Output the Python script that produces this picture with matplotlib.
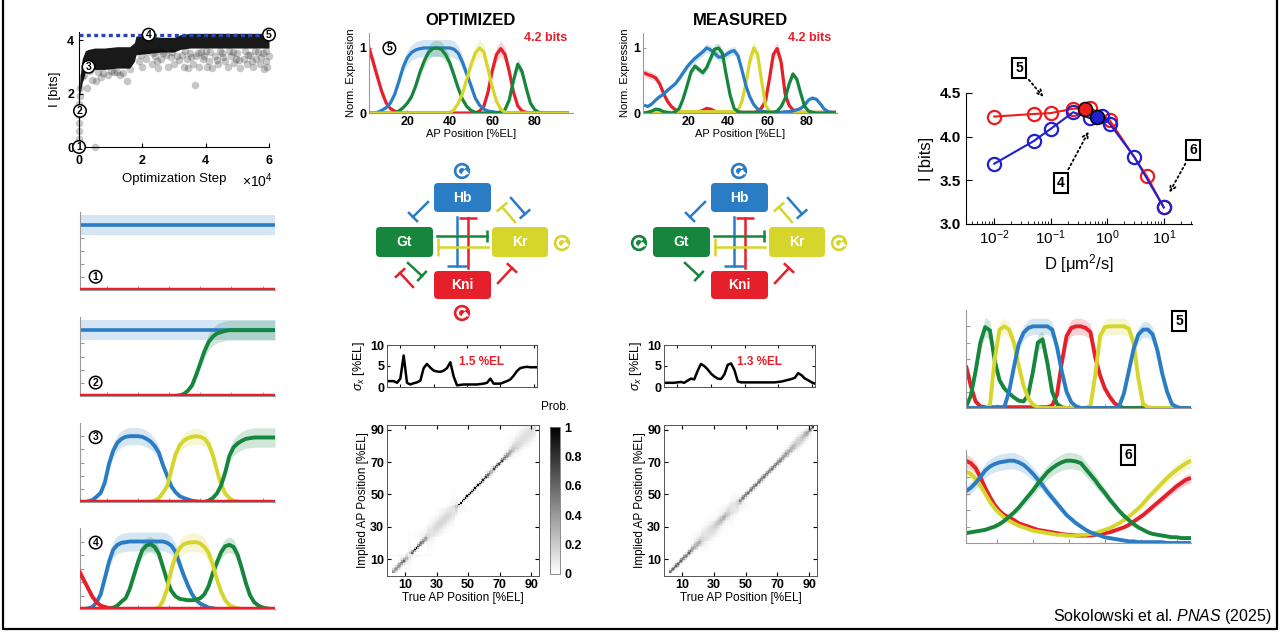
import numpy as np
import matplotlib
matplotlib.use("Agg")
import matplotlib.pyplot as plt
from matplotlib.patches import FancyBboxPatch, Circle, Arc, Polygon

plt.rcParams['font.family'] = ['Liberation Sans', 'DejaVu Sans']
plt.rcParams['mathtext.fontset'] = 'custom'
plt.rcParams['mathtext.rm'] = 'Liberation Sans'
plt.rcParams['mathtext.it'] = 'Liberation Sans:italic'
plt.rcParams['mathtext.bf'] = 'Liberation Sans:bold'

W, H = 1281, 633

# gene colours
C_HB = '#2a7dc4'
C_GT = '#15863c'
C_KR = '#d6d52c'
C_KNI = '#e5202a'

# ---------------- optimisation trace ----------------
core_step = [0.02, 0.05, 0.1, 0.2, 0.3, 0.5, 0.8, 1.2, 1.6, 1.75, 1.8, 2.2, 2.6, 3.0, 3.2, 3.5, 4.0, 4.5, 5.0, 5.5, 6.0]
core_lo = [1.9, 2.1, 2.4, 2.8, 2.9, 2.9, 2.9, 2.95, 2.95, 3.2, 3.45, 3.5, 3.55, 3.55, 3.65, 3.7, 3.7, 3.7, 3.7, 3.7, 3.7]
core_hi = [2.4, 2.8, 3.3, 3.6, 3.65, 3.7, 3.7, 3.75, 3.75, 3.9, 4.15, 4.15, 4.1, 4.1, 4.2, 4.25, 4.25, 4.25, 4.25, 4.25, 4.25]
gray_step = [0.0, 0.0, 0.0, 0.01, 0.01, 0.02, 0.03, 0.5, 0.1, 0.25, 0.4, 0.55, 0.7, 0.9, 1.1, 1.5, 1.3, 1.6,
             1.9, 2.0, 2.1, 2.3, 2.4, 2.5, 2.6, 2.8, 2.9, 3.0, 3.1,
             3.3, 3.4, 3.5, 3.6, 3.65, 3.7, 3.8, 3.9, 4.0, 4.1, 4.2, 4.3, 4.4, 4.5, 4.6, 4.7, 4.8, 4.9,
             5.0, 5.1, 5.2, 5.3, 5.4, 5.5, 5.6, 5.7, 5.8, 5.85, 5.9, 6.0, 5.95, 4.05, 3.45, 4.75, 5.25,
             1.95, 2.15, 2.35, 2.55, 2.75, 2.95, 3.15, 3.35, 3.55, 3.75, 3.95, 4.15, 4.35, 4.55, 4.85,
             5.05, 5.35, 5.45, 5.65, 5.75, 5.9, 3.25, 3.85, 4.45, 4.95, 5.55, 2.45, 2.65, 0.15, 0.35,
             0.6, 0.75, 1.0, 1.2, 1.4]
gray_info = [0.3, 0.6, 0.9, 1.2, 1.6, 1.9, 2.2, 0.0, 2.6, 2.2, 2.5, 2.45, 2.6, 2.7, 2.8, 2.45, 2.7, 2.9,
             3.2, 3.0, 3.3, 3.1, 3.4, 2.95, 3.3, 3.0, 3.35, 3.1, 3.4,
             3.0, 3.3, 3.5, 3.1, 2.3, 3.4, 3.0, 3.3, 3.6, 3.2, 2.95, 3.4, 3.1, 3.5, 3.2, 3.0, 3.4, 3.15,
             3.5, 2.95, 3.3, 3.1, 3.45, 3.0, 3.3, 3.1, 3.5, 2.9, 3.2, 3.4, 3.0, 3.0, 2.95, 3.6, 3.6,
             3.45, 3.55, 3.5, 3.6, 3.45, 3.55, 3.25, 3.6, 3.35, 3.5, 3.4, 3.55, 3.25, 3.35, 3.55,
             3.25, 3.45, 3.2, 3.55, 3.35, 3.6, 3.45, 3.55, 3.6, 3.3, 3.6, 3.2, 3.5, 2.7, 2.85,
             2.8, 2.75, 2.85, 2.8, 2.75]
max_info = 4.2
snap_step = [0.0, 0.03, 0.3, 2.2, 6.0]
snap_info = [0.0, 1.35, 3.0, 4.2, 4.2]

# ---------------- expression profiles (AP position grid, %EL) ----------------
AP = np.arange(2, 97, 2)
AP_MEAS = np.arange(-3, 96, 2)

stage_level = 1.0
stage2_gt = [0, 0, 0, 0, 0, 0, 0, 0, 0, 0, 0, 0, 0, 0, 0, 0, 0, 0, 0, 0, 0, 0, 0, 0.0,
             0.01, 0.03, 0.08, 0.16, 0.32, 0.5, 0.68, 0.82, 0.9, 0.95, 0.97, 0.99,
             1, 1, 1, 1, 1, 1, 1, 1, 1, 1, 1, 1]

stage3_hb = [0, 0, .01, .03, .08, .14, .30, .58, .78, .90, .96, .99, 1, 1, 1, .99, .96, .92, .85, .75,
             .56, .40, .24, .15, .09, .06, .04, .02, .01, 0, 0, 0, 0, 0, 0, 0, 0, 0, 0, 0,
             0, 0, 0, 0, 0, 0, 0, 0]
stage3_kr = [0, 0, 0, 0, 0, 0, 0, 0, 0, 0, 0, 0, 0, 0, 0, 0, 0, 0, .02, .06,
             .14, .24, .48, .72, .86, .93, .97, .99, 1, .99, .96, .88, .72, .48, .27, .13, .06, .02, .01, 0,
             0, 0, 0, 0, 0, 0, 0, 0]
stage3_gt = [0, 0, 0, 0, 0, 0, 0, 0, 0, 0, 0, 0, 0, 0, 0, 0, 0, 0, 0, 0,
             0, 0, 0, 0, 0, 0, 0, 0, 0, 0, 0, .02, .06, .13, .25, .45, .70, .83, .89, .93,
             .96, .97, .98, .98, .98, .98, .98, .98]

stage4_kni = [.54, .42, .30, .18, .10, .05, .03, .01, 0, 0, 0, 0, 0, 0, 0, 0, 0, 0, 0, 0,
              0, 0, 0, 0, 0, 0, 0, 0, 0, 0, 0, 0, 0, 0, 0, 0, 0, 0, 0, 0,
              0, 0, 0, 0, 0, 0, 0, 0]
stage4_hb = [0, 0, .01, .03, .10, .22, .46, .70, .88, .95, .98, .99, 1, 1, 1, 1, 1, 1, 1, 1,
             1, .98, .94, .85, .67, .50, .35, .22, .13, .08, .05, .02, .01, 0, 0, 0, 0, 0, 0, 0,
             0, 0, 0, 0, 0, 0, 0, 0]
stage4_gt = [0, 0, 0, 0, 0, 0, 0, .01, .02, .05, .11, .16, .30, .50, .70, .87, .94, .96, .92, .82,
             .62, .42, .27, .19, .15, .14, .13, .13, .14, .16, .22, .34, .53, .69, .84, .93, .95, .92, .80, .60,
             .38, .20, .10, .05, .02, .01, 0, 0]
stage4_kr = [0, 0, 0, 0, 0, 0, 0, 0, 0, 0, 0, 0, 0, 0, 0, 0, 0, 0, 0, .02,
             .12, .30, .58, .78, .90, .96, .98, .99, .99, .97, .92, .83, .66, .44, .26, .13, .06, .03, .01, 0,
             0, 0, 0, 0, 0, 0, 0, 0]

opt_kni = [1.0, .78, .55, .33, .16, .07, .03, .01, 0, 0, 0, 0, 0, 0, 0, 0, 0, 0, 0, 0,
           0, 0, 0, 0, 0, 0, .03, .10, .32, .65, .90, .99, .90, .64, .32, .11, .03, .01, 0, 0,
           0, 0, 0, 0, 0, 0, 0, 0]
opt_hb = [0, 0, .01, .04, .08, .15, .28, .48, .70, .85, .93, .97, .99, 1, 1, 1, 1, 1, 1, 1,
          .98, .92, .78, .60, .42, .23, .12, .06, .03, .02, .01, 0, 0, 0, 0, 0, 0, 0, 0, 0,
          0, 0, 0, 0, 0, 0, 0, 0]
opt_gt = [0, 0, 0, 0, 0, 0, 0, .03, .08, .15, .25, .42, .63, .80, .93, .99, 1.0, .98, .90, .77,
          .58, .38, .21, .10, .04, .01, 0, 0, 0, 0, 0, .02, .05, .20, .50, .75, .64, .38, .15, .05,
          .01, 0, 0, 0, 0, 0, 0, 0]
opt_kr = [0, 0, 0, 0, 0, 0, 0, 0, 0, 0, 0, 0, 0, 0, 0, 0, 0, 0, 0, 0,
          .05, .15, .30, .52, .74, .92, 1.0, .94, .68, .40, .18, .06, .01, 0, 0, 0, 0, 0, 0, 0,
          0, 0, 0, 0, 0, 0, 0, 0]

meas_kni = [.62, .59, .57, .54, .45, .30, .18, .10, .05, .02, .01, .01, .01, .01, .02, .04, .07, .06, .03, .01,
            .01, .01, .01, .01, .01, .01, .01, .01, .01, .02, .08, .18, .52, .90, .99, .78, .30, .12, .05, .02,
            .01, .01, .01, .01, .01, .01, .01, .01, .01, .01]
meas_hb = [.12, .10, .14, .20, .25, .29, .35, .40, .45, .53, .62, .71, .78, .84, .89, .94, 1.0, .97, .92, .86,
           .86, .90, .94, .96, .88, .66, .42, .25, .13, .06, .03, .02, .01, .01, .01, .01, .02, .02, .03, .05,
           .07, .12, .20, .23, .21, .14, .06, .02, .01, .01]
meas_gt = [0, .01, .03, .06, .05, .02, .01, 0, .02, .07, .22, .42, .63, .72, .67, .62, .70, .84, .98, 1.0,
           .92, .58, .27, .07, .02, .01, .01, .01, .01, .01, .01, .01, .01, .01, .03, .10, .22, .44, .60, .52,
           .30, .10, .03, .01, 0, 0, 0, 0, 0, 0]
meas_kr = [.01, .01, .01, .01, .01, .01, .01, .01, .01, .02, .02, .02, .02, .02, .02, .02, .02, .02, .02, .02,
           .02, .02, .02, .02, .04, .18, .45, .80, 1.0, .90, .50, .12, .03, .01, .01, .01, .01, .01, .01, .01,
           .01, .01, .01, .01, .01, .01, .01, .01, .01, .01]

d5_kni = [.52, .27, .08, .02, .01, .01, .01, .01, .01, .01, .01, .01, .01, .01, .01, .01, .01, .01, .03, .16,
          .55, .88, .98, 1.0, 1.0, .98, .93, .62, .40, .24, .14, .06, .02, 0, 0, 0, 0, 0, 0, 0,
          0, 0, 0, 0, 0, 0, 0, 0]
d5_gt = [.01, .15, .45, .80, .99, .95, .58, .34, .24, .18, .13, .09, .08, .16, .45, .80, .84, .55, .20, .05,
         .01, 0, 0, 0, 0, 0, 0, 0, 0, 0, 0, 0, 0, 0, 0, 0, 0, 0, 0, 0,
         0, 0, 0, 0, 0, 0, 0, 0]
d5_kr = [0, 0, 0, 0, 0, .03, .60, .96, 1.0, .96, .80, .52, .28, .12, .04, .01, 0, 0, 0, 0,
         0, 0, 0, 0, 0, 0, .03, .40, .88, .99, 1.0, 1.0, 1.0, 1.0, .97, .80, .36, .05, .01, 0,
         0, 0, 0, 0, 0, 0, 0, 0]
d5_hb = [0, 0, 0, 0, 0, 0, 0, 0, .01, .20, .50, .78, .92, .98, 1.0, 1.0, 1.0, 1.0, .96, .75,
         .45, .20, .07, .02, 0, 0, 0, 0, 0, 0, 0, 0, .02, .18, .45, .72, .90, .96, .96, .90,
         .70, .42, .20, .05, .01, 0, 0, 0]

d6_kni = [1.0, .97, .91, .80, .67, .56, .46, .39, .34, .31, .28, .24, .22, .20, .18, .16, .15, .14, .13, .12,
          .11, .10, .10, .09, .09, .09, .09, .10, .11, .12, .13, .15, .17, .19, .22, .26, .30, .34, .39, .44,
          .49, .54, .59, .64, .69, .73, .77, .79]
d6_kr = [.87, .84, .78, .70, .60, .50, .42, .36, .31, .27, .24, .21, .19, .17, .15, .14, .13, .12, .11, .10,
         .10, .09, .09, .09, .10, .10, .11, .12, .14, .16, .18, .21, .24, .28, .32, .37, .42, .48, .55, .61,
         .67, .73, .79, .84, .89, .93, .97, 1.0]
d6_hb = [.63, .67, .73, .80, .88, .93, .96, .98, .99, 1.0, 1.0, .98, .95, .90, .84, .77, .70, .62, .55, .48,
         .41, .34, .29, .24, .20, .16, .13, .11, .09, .07, .06, .05, .04, .03, .02, .02, .01, .01, .01, .01,
         .01, .01, 0, 0, 0, 0, 0, 0]
d6_gt = [.12, .13, .14, .15, .16, .18, .20, .23, .27, .32, .37, .43, .50, .57, .64, .72, .79, .86, .91, .95,
         .98, 1.0, 1.0, .99, .97, .90, .83, .76, .68, .61, .53, .46, .39, .33, .28, .23, .19, .16, .13, .11,
         .10, .09, .08, .07, .07, .06, .06, .06]

# ---------------- positional error sigma_x (%EL) ----------------
SIG_AP = np.arange(2, 93, 2)
sigma_opt = [1.4, 1.4, 1.4, 1.0, 2.0, 7.5, 1.0, 0.6, 0.9, 1.1, 1.5, 4.5, 5.5, 4.6, 3.9, 3.7, 3.6, 3.9, 4.5, 5.9,
             2.5, 0.4, 0.5, 0.6, 0.6, 0.6, 0.6, 0.6, 0.7, 0.8, 1.0, 2.0, 0.8, 0.8, 0.8, 1.1, 1.4, 1.8, 2.7, 3.8,
             4.5, 4.7, 4.8, 4.7, 4.7, 4.7]
sigma_meas = [1.0, 1.0, 1.0, 1.0, 1.1, 1.2, 1.0, 1.5, 2.0, 1.8, 3.8, 5.5, 5.0, 4.2, 3.2, 2.5, 2.0, 1.9, 3.0, 5.3,
              5.6, 4.0, 1.3, 1.1, 1.1, 1.1, 1.1, 1.1, 1.1, 1.1, 1.1, 1.1, 1.1, 1.1, 1.2, 1.3, 1.5, 1.7, 1.9, 2.2,
              3.3, 2.8, 2.0, 1.6, 1.1, 0.8]
mean_sigma = {'opt': 1.5, 'meas': 1.3}
info_bits = 4.2

# ---------------- information vs diffusion ----------------
D_red = [0.01, 0.05, 0.1, 0.25, 0.5, 1.1, 5.0, 10.0]
I_red = [4.23, 4.26, 4.27, 4.32, 4.33, 4.19, 3.55, 3.19]
D_blue = [0.01, 0.05, 0.1, 0.25, 0.5, 0.8, 1.1, 3.0, 10.0]
I_blue = [3.69, 3.95, 4.09, 4.28, 4.21, 4.24, 4.15, 3.77, 3.19]
D_best = [0.4, 0.65]
I_best = [4.32, 4.22]

fig = plt.figure(figsize=(W / 100, H / 100), dpi=100)


def px_axes(l, t, r, b):
    return fig.add_axes([l / W, 1 - b / H, (r - l) / W, (b - t) / H])


def expr_style(ax, xlim, ylim, labels=False):
    ax.set_xlim(*xlim)
    ax.set_ylim(*ylim)
    for s in ['top', 'right']:
        ax.spines[s].set_visible(False)
    for s in ['left', 'bottom']:
        ax.spines[s].set_color('#9a9a9a')
        ax.spines[s].set_linewidth(0.8)
    ax.tick_params(direction='in', length=3, color='#9a9a9a', width=0.8)
    if not labels:
        ax.set_xticks(np.arange(15, 91, 15))
        ax.set_yticks(np.arange(0.2, 1.01, 0.2))
        ax.set_xticklabels([])
        ax.set_yticklabels([])


def draw_curves(ax, x, curves, lw):
    for y, color, frac in curves:
        y = np.asarray(y, dtype=float)
        ax.fill_between(x, y * (1 - frac), y * (1 + frac), color=color, alpha=0.2, lw=0)
    for y, color, frac in curves:
        ax.plot(x, y, color=color, lw=lw, solid_capstyle='butt', solid_joinstyle='round')


def circled(ax, x, y, s, fs=7.5, transform=None):
    ax.text(x, y, s, ha='center', va='center', fontsize=fs, weight='bold',
            transform=transform if transform is not None else ax.transData,
            bbox=dict(boxstyle='circle,pad=0.12', fc='white', ec='black', lw=1.1),
            zorder=6, clip_on=False)


# ---- optimisation trace
ax = px_axes(79, 32, 269, 147)
ax.scatter(gray_step, gray_info, s=30, color='black', alpha=0.22, lw=0, clip_on=False)
ax.fill_between(core_step, core_lo, core_hi, color='black', alpha=0.9, lw=0)
ax.axhline(max_info, color='#2b45a8', lw=2.4, ls=(0, (1.2, 1.0)), zorder=3)
for i, (s, v) in enumerate(zip(snap_step, snap_info)):
    circled(ax, s, v, str(i + 1))
ax.set_xlim(0, 6)
ax.set_ylim(0, 4.3)
ax.set_xticks([0, 2, 4, 6])
ax.set_yticks([0, 2, 4])
for s in ['top', 'right']:
    ax.spines[s].set_visible(False)
ax.tick_params(direction='in', length=3, labelsize=9)
ax.tick_params(axis='x', pad=6)
for lab in ax.get_xticklabels() + ax.get_yticklabels():
    lab.set_fontweight('bold')
ax.set_ylabel('I [bits]', fontsize=9.5, labelpad=4)
ax.set_xlabel('Optimization Step', fontsize=9.5, labelpad=4)

# ---- optimisation snapshots 1-4
ax = px_axes(80, 212, 275, 290)
ax.axhspan(stage_level - 0.15, stage_level + 0.15, color=C_HB, alpha=0.2, lw=0)
ax.axhline(stage_level, color=C_HB, lw=2.6)
ax.axhline(0, color=C_KNI, lw=3.2, zorder=4)
expr_style(ax, (2, 96), (0, 1.2))
circled(ax, 0.08, 0.17, '1', transform=ax.transAxes)

ax = px_axes(80, 317, 275, 396)
ax.axhspan(stage_level - 0.15, stage_level + 0.15, color=C_HB, alpha=0.2, lw=0)
ax.fill_between(AP, np.array(stage2_gt) * 0.85, np.array(stage2_gt) * 1.15, color=C_GT, alpha=0.2, lw=0)
ax.axhline(stage_level, color=C_HB, lw=2.6)
ax.plot(AP, stage2_gt, color=C_GT, lw=2.8)
ax.axhline(0, color=C_KNI, lw=3.2, zorder=4)
expr_style(ax, (2, 96), (0, 1.2))
circled(ax, 0.08, 0.17, '2', transform=ax.transAxes)

ax = px_axes(80, 423, 275, 502)
draw_curves(ax, AP, [(stage3_hb, C_HB, 0.13), (stage3_kr, C_KR, 0.12), (stage3_gt, C_GT, 0.15)], 2.8)
ax.axhline(0, color=C_KNI, lw=3.2, zorder=4)
expr_style(ax, (2, 96), (0, 1.2))
circled(ax, 0.08, 0.82, '3', transform=ax.transAxes)

ax = px_axes(80, 528, 275, 609)
draw_curves(ax, AP, [(stage4_hb, C_HB, 0.14), (stage4_gt, C_GT, 0.12), (stage4_kr, C_KR, 0.14)], 2.8)
ax.plot(AP, stage4_kni, color=C_KNI, lw=2.8, zorder=5)
ax.axhline(0, color=C_KNI, lw=3.2, zorder=4)
expr_style(ax, (2, 96), (0, 1.2))
circled(ax, 0.08, 0.82, '4', transform=ax.transAxes)


# ---- optimised / measured expression
def top_panel(l, r, x, curves, title, xlim, number=None):
    ax = px_axes(l, 33, r, 113)
    draw_curves(ax, x, curves, 2.3)
    expr_style(ax, xlim, (0, 1.23), labels=True)
    ax.set_xticks([20, 40, 60, 80])
    ax.set_yticks([0, 1])
    ax.tick_params(labelsize=9, length=2, pad=2)
    for lab in ax.get_xticklabels() + ax.get_yticklabels():
        lab.set_fontweight('bold')
    ax.set_xlabel('AP Position [%EL]', fontsize=8, labelpad=1)
    ax.set_ylabel('Norm. Expression', fontsize=8, labelpad=2)
    ax.set_title(title, fontsize=12, weight='bold', pad=6)
    ax.text(0.97, 0.94, f'{info_bits} bits', transform=ax.transAxes, ha='right', va='center',
            color=C_KNI, fontsize=9, weight='bold')
    if number:
        circled(ax, 0.1, 0.81, number, transform=ax.transAxes)
    return ax


top_panel(369, 573, AP, [(opt_kni, C_KNI, 0.12), (opt_hb, C_HB, 0.13), (opt_gt, C_GT, 0.12),
                         (opt_kr, C_KR, 0.13)], 'OPTIMIZED', (2, 98), '5')
top_panel(643, 837, AP_MEAS, [(meas_kni, C_KNI, 0.1), (meas_kr, C_KR, 0.12), (meas_hb, C_HB, 0.07),
                              (meas_gt, C_GT, 0.08)], 'MEASURED', (-3.5, 95.5))

# ---- network diagrams (pixel space overlay)
ov = fig.add_axes([0, 0, 1, 1])
ov.set_xlim(0, W)
ov.set_ylim(H, 0)
ov.axis('off')
ov.set_zorder(5)

BOXES = [('Hb', C_HB, 434, 183, 491, 212), ('Gt', C_GT, 376, 227, 433, 257),
         ('Kr', C_KR, 492, 227, 548, 257), ('Kni', C_KNI, 434, 271, 491, 299)]
EDGES = [(C_HB, (428, 202), (413, 217), 7), (C_KR, (515, 222), (502, 207), 7),
         (C_HB, (511, 198), (525, 214), 7), (C_KNI, (413, 287), (400, 273), 7),
         (C_GT, (408, 263), (422, 276), 7), (C_KNI, (498, 283), (512, 268), 7),
         (C_HB, (457, 217), (457, 266), 10), (C_KNI, (468, 268), (468, 218), 9),
         (C_GT, (437, 236), (487, 236), 6), (C_KR, (488, 247), (438, 247), 9)]
LOOPS_OPT = [(462, 171, C_HB), (562, 243, C_KR), (462, 313, C_KNI)]
LOOPS_MEAS = [(462, 171, C_HB), (362, 243, C_GT), (562, 243, C_KR)]


def self_loop(x, y, color):
    ov.add_patch(Circle((x, y), 7.5, color=color, zorder=6))
    ov.add_patch(Arc((x, y), 8.5, 8.5, theta1=40, theta2=320, color='white', lw=1.8, zorder=7))
    a = np.deg2rad(40)
    hx, hy = x + 4.25 * np.cos(a), y + 4.25 * np.sin(a)
    ov.add_patch(Polygon([(hx - 3, hy), (hx + 3, hy), (hx, hy - 3.5)], color='white', zorder=7))


def network(dx, edges, loops):
    for name, color, x0, y0, x1, y1 in BOXES:
        ov.add_patch(FancyBboxPatch((x0 + dx, y0), x1 - x0, y1 - y0,
                                    boxstyle='round,pad=0,rounding_size=4', fc=color, ec='none', zorder=6))
        ov.text((x0 + x1) / 2 + dx, (y0 + y1) / 2, name, color='white', fontsize=10, weight='bold',
                ha='center', va='center', zorder=7)
    for color, p0, p1, half in edges:
        vx, vy = p1[0] - p0[0], p1[1] - p0[1]
        n = np.hypot(vx, vy)
        px_, py_ = -vy / n * half, vx / n * half
        ov.plot([p0[0] + dx, p1[0] + dx], [p0[1], p1[1]], color=color, lw=1.8, zorder=6)
        ov.plot([p1[0] + dx - px_, p1[0] + dx + px_], [p1[1] - py_, p1[1] + py_], color=color, lw=1.8,
                zorder=6, solid_capstyle='butt')
    for x, y, color in loops:
        self_loop(x + dx, y, color)


network(0, EDGES, LOOPS_OPT)
network(277, [e for i, e in enumerate(EDGES) if i != 3], LOOPS_MEAS)


# ---- positional error
def sigma_panel(l, r, sig, mean):
    ax = px_axes(l, 345, r, 387)
    ax.plot(SIG_AP, sig, color='black', lw=1.8)
    ax.set_xlim(2, 92)
    ax.set_ylim(0, 10)
    ax.set_yticks([0, 5, 10])
    ax.set_xticks([10, 30, 50, 70, 90])
    ax.set_xticklabels([])
    ax.tick_params(direction='in', length=2.5, labelsize=9, top=True, right=True, pad=2)
    for lab in ax.get_yticklabels():
        lab.set_fontweight('bold')
    for s in ax.spines.values():
        s.set_color('#555555')
        s.set_linewidth(0.7)
    ax.set_ylabel(r'$\sigma_x$ [%EL]', fontsize=9, labelpad=2)
    ax.text(0.63, 0.6, f'{mean} %EL', transform=ax.transAxes, ha='center', va='center',
            color=C_KNI, fontsize=8.5, weight='bold')


sigma_panel(387, 537, sigma_opt, mean_sigma['opt'])
sigma_panel(664, 815, sigma_meas, mean_sigma['meas'])

# decoding maps on a 1 %EL grid, each sigma sample held over its 2 %EL bin;
# values are Gaussian densities per 1.5 %EL, capped at 1
HEAT_AP = np.arange(2, 93)


def decode_map(sig):
    s = np.repeat(np.asarray(sig), 2)[:len(HEAT_AP)]
    d = HEAT_AP[:, None] - HEAT_AP[None, :]
    pc = np.exp(-d ** 2 / (2 * s[None, :] ** 2)) / (np.sqrt(2 * np.pi) * s[None, :])
    pr = np.exp(-d ** 2 / (2 * s[:, None] ** 2)) / (np.sqrt(2 * np.pi) * s[:, None])
    return np.clip(0.75 * (pc + pr), 0, 1)


def heat_panel(l, r, sig):
    ax = px_axes(l, 425, r, 576)
    im = ax.imshow(decode_map(sig), origin='lower', extent=[1.5, 92.5, 1.5, 92.5], cmap='gray_r',
                   vmin=0, vmax=1, interpolation='nearest', aspect='auto')
    ax.set_xlim(-1.5, 95)
    ax.set_ylim(-0.5, 93)
    ax.set_xticks([10, 30, 50, 70, 90])
    ax.set_yticks([10, 30, 50, 70, 90])
    ax.tick_params(direction='in', length=3, labelsize=9, top=True, right=True, pad=2)
    for lab in ax.get_xticklabels() + ax.get_yticklabels():
        lab.set_fontweight('bold')
    for s in ax.spines.values():
        s.set_color('#555555')
        s.set_linewidth(0.7)
    ax.set_xlabel('True AP Position [%EL]', fontsize=8.5, labelpad=1)
    ax.set_ylabel('Implied AP Position [%EL]', fontsize=8.5, labelpad=1)
    return im


im = heat_panel(387, 539, sigma_opt)
heat_panel(664, 817, sigma_meas)
cax = px_axes(550, 427, 560, 574)
cb = fig.colorbar(im, cax=cax, ticks=[0, 0.2, 0.4, 0.6, 0.8, 1])
cb.ax.set_yticklabels(['0', '0.2', '0.4', '0.6', '0.8', '1'])
cb.ax.tick_params(labelsize=9, length=0, pad=3)
for lab in cb.ax.get_yticklabels():
    lab.set_fontweight('bold')
cb.outline.set_linewidth(0.6)
cb.outline.set_edgecolor('#777777')
cax.set_title('Prob.', fontsize=8.5, pad=12)

# ---- information vs diffusion constant
ax = px_axes(966, 93, 1192, 224)
ax.plot(D_red, I_red, '-o', color='#ee1c1c', mfc='none', ms=9.5, mew=1.6, lw=1.5)
ax.plot(D_blue, I_blue, '-o', color='#2020d0', mfc='none', ms=9.5, mew=1.6, lw=1.5)
ax.plot(D_best[0], I_best[0], 'o', color='#ee1c1c', mec='black', ms=10, mew=1.2, zorder=5)
ax.plot(D_best[1], I_best[1], 'o', color='#2020d0', mec='black', ms=10, mew=1.2, zorder=5)
ax.set_xscale('log')
ax.set_xlim(10 ** -2.5, 10 ** 1.5)
ax.set_ylim(3.0, 4.5)
ax.set_yticks([3.0, 3.5, 4.0, 4.5])
ax.set_yticklabels(['3.0', '3.5', '4.0', '4.5'])
for s in ['top', 'right']:
    ax.spines[s].set_visible(False)
ax.tick_params(which='both', direction='in', labelsize=11)
ax.tick_params(which='major', length=4)
ax.tick_params(which='minor', length=2)
for lab in ax.get_yticklabels():
    lab.set_fontweight('bold')
ax.set_ylabel('I [bits]', fontsize=12, labelpad=4)
ax.set_xlabel(r'D [μm$^2$/s]', fontsize=12, labelpad=3)

box = dict(boxstyle='square,pad=0.25', fc='white', ec='black', lw=1.5)
arrow = dict(arrowstyle='->', linestyle=':', color='black', lw=1.3)
ov.annotate('5', xy=(1045, 99), xytext=(1019, 68), fontsize=10, weight='bold', ha='center', va='center',
            bbox=box, arrowprops=arrow, zorder=8)
ov.annotate('4', xy=(1090, 129), xytext=(1061, 183), fontsize=10, weight='bold', ha='center', va='center',
            bbox=box, arrowprops=arrow, zorder=8)
ov.annotate('6', xy=(1168, 195), xytext=(1193, 150), fontsize=10, weight='bold', ha='center', va='center',
            bbox=box, arrowprops=arrow, zorder=8)

# ---- profiles at low / high diffusion
ax = px_axes(966, 310, 1191, 408)
draw_curves(ax, AP, [(d5_kni, C_KNI, 0.1), (d5_gt, C_GT, 0.12), (d5_kr, C_KR, 0.1), (d5_hb, C_HB, 0.1)], 2.8)
expr_style(ax, (2, 96), (0, 1.2))
ov.text(1179, 321, '5', fontsize=10, weight='bold', ha='center', va='center', bbox=box, zorder=8)

ax = px_axes(966, 450, 1191, 543)
draw_curves(ax, AP, [(d6_kni, C_KNI, 0.08), (d6_kr, C_KR, 0.08), (d6_hb, C_HB, 0.1), (d6_gt, C_GT, 0.1)], 2.8)
expr_style(ax, (2, 96), (0, 1.13))
ov.text(1128, 455, '6', fontsize=10, weight='bold', ha='center', va='center', bbox=box, zorder=8)

# ---- free text and frame
ov.text(273, 181, r'$\times10^4$', fontsize=10, ha='right', va='center')
ov.text(1272, 617, r'Sokolowski et al. $\mathit{PNAS}$ (2025)', fontsize=11.5, ha='right', va='center')
ov.plot([3, 3, 1277, 1277], [0, 629, 629, 0], color='black', lw=1.6)

fig.savefig('out.png', dpi=100)
